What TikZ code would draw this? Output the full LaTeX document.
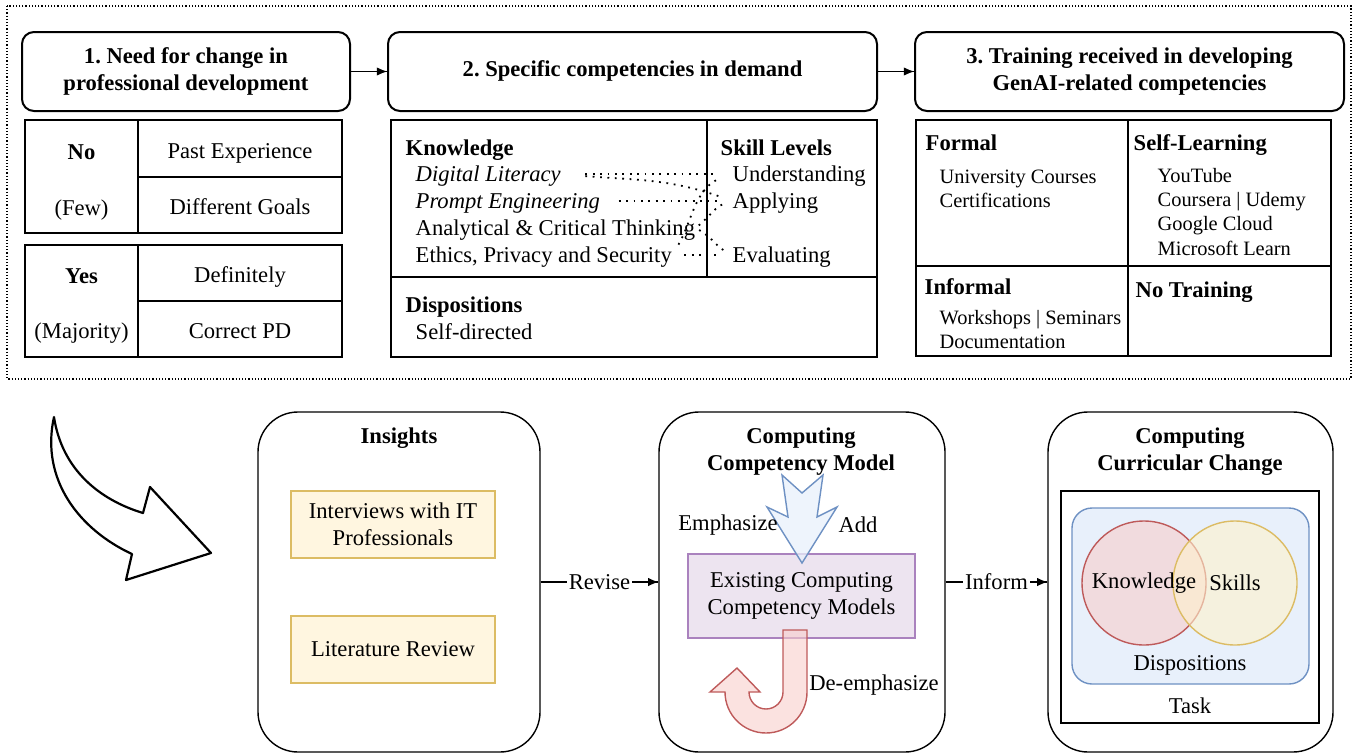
\documentclass[tikz,border=0pt]{standalone}
\usepackage{fontspec}
\setmainfont{Liberation Serif}
\usepackage{xcolor}
\usetikzlibrary{positioning, calc, shapes.geometric, arrows.meta, decorations.markings}
\definecolor{boxyellow}{RGB}{255,246,224}
\definecolor{lineyellow}{RGB}{220,188,100}
\definecolor{boxpurple}{RGB}{237,228,240}
\definecolor{linepurple}{RGB}{170,130,190}
\definecolor{boxblue}{RGB}{232,240,251}
\definecolor{lineblue}{RGB}{110,145,195}
\definecolor{boxred}{RGB}{248,206,204}
\definecolor{linered}{RGB}{190,90,90}
\definecolor{venyellow}{RGB}{255,242,204}
\tikzstyle{Arrow} = [
line width=0.6pt,
decoration={
markings,
mark=at position 0.9999 with {
\arrow{Latex[length=5pt, width=4pt]}}},
preaction = {decorate}]
\tikzstyle{Title} = [draw, line width=1pt, rounded corners=6pt, align=center,
        font=\bfseries, minimum height=39.5pt, text depth=2.5pt]
\tikzstyle{Panel} = [draw, line width=0.7pt, rounded corners=20pt, minimum height=170pt]
\tikzstyle{Cell} = [inner sep=0pt, text height=7.5pt, text depth=0pt]
\tikzstyle{Item} = [Cell, anchor=west]
\tikzstyle{Head} = [Item, font=\bfseries]
\tikzstyle{Small} = [Item, font=\fontsize{10.2}{12}\selectfont, text height=6.8pt]
\tikzstyle{Link} = [line width=0.9pt, dash pattern=on 0.9pt off 2.8pt]
\tikzstyle{Source} = [draw=lineyellow, fill=boxyellow, minimum width=102pt,
        minimum height=33.5pt, align=center]

\begin{document}
\frenchspacing
\begin{tikzpicture}[x=0.5pt, y=-0.5pt, line width=0.7pt]
    \fontsize{11.3}{13.5}\selectfont
    \useasboundingbox (0,0) rectangle (1353,755);

    % survey results
    \draw[line width=0.6pt, densely dotted] (7,6) rectangle (1351,379);
    \node[Title, minimum width=164pt] (1) at (186,71.5) {1. Need for change in\\professional development};
    \node[Title, minimum width=244.5pt] (2) at (632.5,71.5) {2. Specific competencies in demand};
    \node[Title, minimum width=214.5pt] (3) at (1129.5,71.5) {3. Training received in developing\\GenAI-related competencies};
    \draw[Arrow] (1.east)--(2.west);
    \draw[Arrow] (2.east)--(3.west);

    \draw (25,120) rectangle (342,233);
    \draw (138,120) -- (138,233);
    \draw (138,177) -- (342,177);
    \draw (25,245) rectangle (342,357);
    \draw (138,245) -- (138,357);
    \draw (138,301) -- (342,301);
    \node[Cell, font=\bfseries] (no) at (81.5,152) {No};
    \node[Cell] (few) at (81.5,208) {(Few)};
    \node[Cell] (past) at (240,151) {Past Experience};
    \node[Cell] (goals) at (240,207) {Different Goals};
    \node[Cell, font=\bfseries] (yes) at (81.5,276) {Yes};
    \node[Cell] (most) at (81.5,331) {(Majority)};
    \node[Cell] (sure) at (240,275) {Definitely};
    \node[Cell] (pd) at (240,331) {Correct PD};

    \draw (391,120) rectangle (877,357);
    \draw (707,120) -- (707,277);
    \draw (391,277) -- (877,277);
    \node[Head] (know) at (405,148) {Knowledge};
    \node[Item, font=\itshape] (dl) at (415,174) {Digital Literacy};
    \node[Item, font=\itshape] (pe) at (415,201) {Prompt Engineering};
    \node[Item] (ac) at (415,228) {Analytical \& Critical Thinking};
    \node[Item] (es) at (415,255) {Ethics, Privacy and Security};
    \node[Head] (skill) at (720,148) {Skill Levels};
    \node[Item] (un) at (732,174) {Understanding};
    \node[Item] (ap) at (732,201) {Applying};
    \node[Item] (ev) at (732,255) {Evaluating};
    \node[Head] (disp) at (405,305) {Dispositions};
    \node[Item] (self) at (415,332) {Self-directed};
    \draw[Link, shorten <=12pt, shorten >=7pt] (dl.east) -- (un.west);
    \draw[Link, shorten <=12pt, shorten >=5pt] (dl.east) to[out=-5, in=160] (ap.west);
    \draw[Link, shorten <=9pt, shorten >=6pt] (pe.east) -- (ap.west);
    \draw[Link, shorten <=2pt, shorten >=5pt] (ac.east) to[out=40, in=200] (ap.west);
    \draw[Link, shorten <=2pt, shorten >=5pt] (ac.east) to[out=-30, in=150] (ev.west);
    \draw[Link, shorten <=6pt, shorten >=6pt] (es.east) to[out=60, in=200] (un.west);
    \draw[Link, shorten <=6pt, shorten >=6pt] (es.east) -- (ev.west);

    \draw (916,120) rectangle (1331,356);
    \draw (1128,120) -- (1128,356);
    \draw (916,266) -- (1331,266);
    \node[Head] (formal) at (925,143) {Formal};
    \node[Small] (uc) at (939,177) {University Courses};
    \node[Small] (cert) at (939,201) {Certifications};
    \node[Head] (sl) at (1133,143) {Self-Learning};
    \node[Small] (yt) at (1157,176) {YouTube};
    \node[Small] (cu) at (1157,200) {Coursera | Udemy};
    \node[Small] (gc) at (1157,224) {Google Cloud};
    \node[Small] (ml) at (1157,249) {Microsoft Learn};
    \node[Head] (informal) at (924,287) {Informal};
    \node[Small] (ws) at (939,318) {Workshops | Seminars};
    \node[Small] (doc) at (939,342) {Documentation};
    \node[Head] (none) at (1135,290) {No Training};

    % curriculum model
    \draw[line width=1.1pt, line join=round, fill=white] (54,417)
        .. controls (62,470) and (100,500) .. (143,513) -- (150,487) -- (211,553)
        -- (126,580) -- (132,554) .. controls (80,530) and (40,480) .. cycle;

    \node[Panel, minimum width=141pt] (4) at (399,582) {};
    \node[Panel, minimum width=143pt] (5) at (802,582) {};
    \node[Panel, minimum width=142.5pt] (6) at (1190.5,582) {};

    \node[font=\bfseries] (ins) at (399,438) {Insights};
    \node[Source] (iv) at (393,524.5) {Interviews with IT\\Professionals};
    \node[Source] (lr) at (393,649.5) {Literature Review};
    \draw[Arrow] (4.east) -- node[fill=white, inner sep=1pt] (rev) {Revise} (5.west);

    \node[font=\bfseries, align=center] (ccm) at (801,452) {Computing\\Competency Model};
    \node[draw=linepurple, fill=boxpurple, minimum width=113.5pt, minimum height=42pt,
        align=center] (ex) at (801.5,596) {Existing Computing\\Competency Models};
    \draw[draw=lineblue, fill=boxblue, fill opacity=0.75] (782,475) -- (802,493) -- (823,475)
        -- (817,517) -- (837,507) -- (802,563) -- (767,507) -- (788,517) -- cycle;
    \draw[draw=linered, fill=boxred, fill opacity=0.6] (783,630) -- (807,630) -- (807,692)
        arc[start angle=0, end angle=-180, radius=20.5pt] -- (710,692) -- (737,668)
        -- (760,692) -- (749,692) arc[start angle=180, end angle=360, radius=8.5pt] -- cycle;
    \node (emph) at (728,525) {Emphasize};
    \node (add) at (858,525) {Add};
    \node (deemph) at (874,685) {De-emphasize};
    \draw[Arrow] (5.east) -- node[fill=white, inner sep=1pt] (inf) {Inform} (6.west);

    \node[font=\bfseries, align=center] (ccc) at (1190,452) {Computing\\Curricular Change};
    \node[draw, minimum width=129pt, minimum height=116pt] (task) at (1190,607) {};
    \node[draw=lineblue, fill=boxblue, rounded corners=10pt, minimum width=118.5pt,
        minimum height=88pt] (dbox) at (1190.5,596) {};
    \node[circle, draw=linered, fill=boxred, fill opacity=0.6, minimum size=62pt] (kc) at (1144,583) {};
    \node[circle, draw=lineyellow, fill=venyellow, fill opacity=0.6, minimum size=62pt] (sc) at (1235,583) {};
    \node (kn) at (kc) {Knowledge};
    \node (sk) at (sc) {Skills};
    \node (dp) at (1190,665) {Dispositions};
    \node (tk) at (1190,706) {Task};
\end{tikzpicture}
\end{document}
